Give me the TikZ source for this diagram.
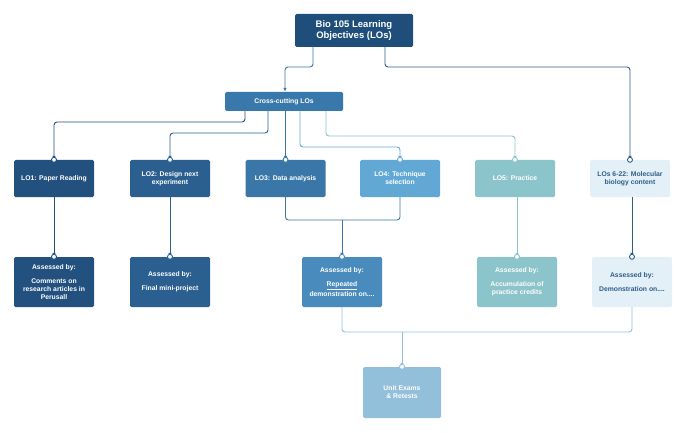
\documentclass[tikz,border=0pt]{standalone}
\usepackage{fontspec}
\setmainfont{Liberation Sans}
\usetikzlibrary{arrows.meta}
\begin{document}
\begin{tikzpicture}[x=1pt,y=-1pt,
 box/.style={rounded corners=1.5pt,minimum width=80pt,align=center,font=\bfseries\fontsize{6.8}{8}\selectfont,text=white,inner sep=1pt},
 ln/.style={line width=0.9pt,rounded corners=3pt},
 ar/.style={ln,-{Latex[length=4pt,width=3.5pt]}},
 dot/.style={circle,fill=white,draw=#1,line width=0.9pt,inner sep=0pt,minimum size=5pt}]
\useasboundingbox (0,0) rectangle (680,433);
\definecolor{cA}{HTML}{22507F}\definecolor{cB}{HTML}{2A5F8F}\definecolor{cC}{HTML}{3A77A8}
\definecolor{cD}{HTML}{62A8D5}\definecolor{cE}{HTML}{8CC4CB}\definecolor{cF}{HTML}{E3F0F8}
\definecolor{cT}{HTML}{1F4E7A}\definecolor{cX}{HTML}{3878AB}\definecolor{cG}{HTML}{4A8BBD}
\definecolor{cU}{HTML}{92BFD9}\definecolor{dk}{HTML}{2F5D86}
\node[box,fill=cT,minimum width=118pt,minimum height=33pt,font=\bfseries\fontsize{9.5}{11}\selectfont] (top) at (354,30.5) {Bio 105 Learning\\Objectives (LOs)};
\node[box,fill=cX,minimum width=118pt,minimum height=19pt] (x) at (284,101.5) {Cross-cutting LOs};
\foreach \n/\cx/\c/\t in {a/54/cA/{LO1: Paper Reading},b/170/cB/{LO2: Design next\\experiment},c/285.5/cC/{LO3: Data analysis},d/400/cD/{LO4: Technique\\selection},e/515/cE/{LO5: Practice}}
  \node[box,fill=\c,minimum height=37pt] (\n) at (\cx,178.5) {\t};
\node[box,fill=cF,text=dk,minimum height=37pt] (f) at (630,178.5) {LOs 6-22: Molecular\\biology content};
\node[box,fill=cA,minimum height=50pt] (a2) at (54,282) {Assessed by:\\[6pt]Comments on\\research articles in\\Perusall};
\node[box,fill=cB,minimum height=50pt] (b2) at (170,282) {Assessed by:\\[6pt]Final mini-project};
\node[box,fill=cG,minimum height=50pt] (c2) at (342,282) {Assessed by:\\[6pt]\underline{Repeated}\\demonstration on....};
\node[box,fill=cE,minimum height=50pt] (e2) at (517,282) {Assessed by:\\[6pt]Accumulation of\\practice credits};
\node[box,fill=cF,text=dk,minimum height=50pt] (f2) at (632,282) {Assessed by:\\[6pt]Demonstration on....};
\node[box,fill=cU,minimum width=78pt,minimum height=51pt] (u) at (402,392.5) {Unit Exams\\\& Retests};
% top connectors
\draw[ar,cC] (top.south -| 313,0) |- (285,67) -- (x.north -| 285,0);
\draw[ar,dk] (top.south -| 385,0) |- (630,67) -- (f.north);
\node[dot=dk] at (f.north) {};
% cross connectors
\draw[ar,cA] (x.south -| 245,0) |- (54,122) -- (a.north); \node[dot=cA] at (a.north) {};
\draw[ar,cB] (x.south -| 268,0) |- (170,133) -- (b.north); \node[dot=cB] at (b.north) {};
\draw[ar,cC] (x.south -| 285.5,0) -- (c.north); \node[dot=cC] at (c.north) {};
\draw[ar,cD] (x.south -| 300,0) |- (400,147) -- (d.north); \node[dot=cD] at (d.north) {};
\draw[ar,cE] (x.south -| 326,0) |- (515,136) -- (e.north); \node[dot=cE] at (e.north) {};
% row1 -> row2
\draw[ar,cA] (a) -- (a2); \node[dot=cA] at (a2.north) {};
\draw[ar,cB] (b) -- (b2); \node[dot=cB] at (b2.north) {};
\draw[ar,cE] (e.south -| 517,0) -- (e2.north); \node[dot=cE] at (e2.north) {};
\draw[ar,dk] (f.south -| 632,0) -- (f2.north); \node[dot=dk] at (f2.north) {};
\draw[ln,cC] (c.south) |- (342,220) -| (d.south);
\draw[ar,cC] (342,220) -- (c2.north); \node[dot=cG] at (c2.north) {};
% row2 -> unit
\draw[ln,cU] (c2.south) |- (402,332) -| (f2.south);
\draw[ar,cU] (402,332) -- (u.north); \node[dot=cU] at (u.north) {};
\end{tikzpicture}
\end{document}
